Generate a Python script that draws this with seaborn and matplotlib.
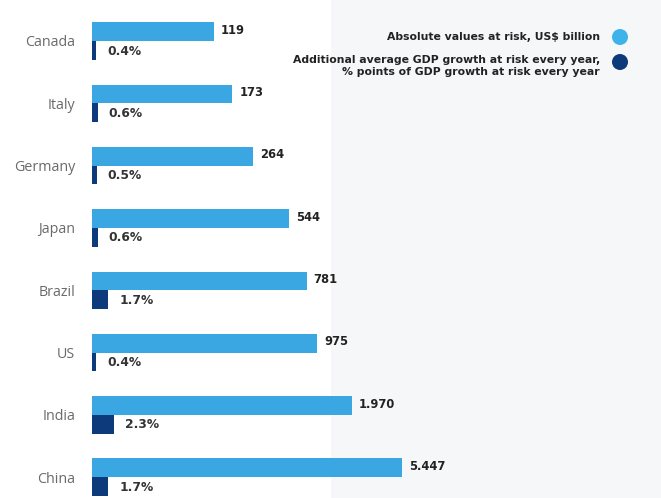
import pandas as pd
import numpy as np
import matplotlib
matplotlib.use('Agg')
import matplotlib.pyplot as plt
import seaborn as sns

# data
countries = ["Canada", "Italy", "Germany", "Japan", "Brazil", "US", "India", "China"]
abs_values = [119, 173, 264, 544, 781, 975, 1970, 5447]          # US$ billion
pct_values = [0.4, 0.6, 0.5, 0.6, 1.7, 0.4, 2.3, 1.7]            # % points of GDP
abs_labels = ["119", "173", "264", "544", "781", "975", "1.970", "5.447"]
series_names = ["Absolute values at risk, US$ billion",
                "Additional average GDP growth at risk every year,\n% points of GDP growth at risk every year"]

light_blue = "#3aa7e3"
dark_blue = "#0c3a7a"

sns.set_theme(style="white")
plt.rcParams['font.family'] = ['Open Sans', 'DejaVu Sans']
bold_font = ['DejaVu Sans']

# long table, one value column per axis (the other left empty)
df = pd.DataFrame({
    "country": countries * 2,
    "series": [series_names[0]] * len(countries) + [series_names[1]] * len(countries),
    "abs_val": abs_values + [np.nan] * len(countries),
    "pct_val": [np.nan] * len(countries) + pct_values,
})

fig = plt.figure(figsize=(6.61, 4.98), dpi=100)
fig.patch.set_facecolor("white")
# light grey panel on the right side
fig.patches.append(plt.Rectangle((0.5, 0), 0.5, 1, transform=fig.transFigure,
                                 facecolor="#f6f7f8", edgecolor="none", zorder=-10))

ax = fig.add_axes([92 / 661, 0, 1 - 92 / 661, 1])
ax.patch.set_alpha(0)
ax.set_xscale("log")
sns.barplot(data=df, y="country", x="abs_val", hue="series", hue_order=series_names,
            order=countries, palette=[light_blue, dark_blue], width=0.6, dodge=True,
            saturation=1, linewidth=0, errorbar=None, legend=False, ax=ax)

ax2 = ax.twiny()
ax2.patch.set_alpha(0)
sns.barplot(data=df, y="country", x="pct_val", hue="series", hue_order=series_names,
            order=countries, palette=[light_blue, dark_blue], width=0.6, dodge=True,
            saturation=1, linewidth=0, errorbar=None, legend=False, ax=ax2)

ax.set_xlim(10, 10 ** 6.02)
ax2.set_xlim(0, 60)
for a in (ax, ax2):
    a.set_ylim(7.335, -0.658)
    for s in a.spines.values():
        s.set_visible(False)
    a.set_xticks([])
    a.set_xlabel("")
    a.set_ylabel("")
    a.tick_params(axis="both", length=0)

ax.set_yticks(range(len(countries)))
ax.set_yticklabels(countries)
ax.tick_params(axis="y", pad=12, labelsize=10.3, labelcolor="#6a6a6a", labelleft=True)

# value labels
for i, (v, lab) in enumerate(zip(abs_values, abs_labels)):
    ax.annotate(lab, (v, i - 0.15), xytext=(5, 1), textcoords="offset points",
                ha="left", va="center", fontsize=8.3, fontweight="bold", color="#222222",
                family=bold_font)
for i, p in enumerate(pct_values):
    ax2.annotate(f"{p:.1f}%", (p, i + 0.15), xytext=(8, -0.5), textcoords="offset points",
                 ha="left", va="center", fontsize=8.8, fontweight="bold", color="#333333",
                 family=bold_font)

# legend drawn by hand, right aligned with circle markers
fig.text(600 / 661, 1 - 37 / 498, series_names[0], ha="right", va="center",
         fontsize=7.8, fontweight="bold", color="#222222", family=bold_font)
fig.text(600 / 661, 1 - 55 / 498, series_names[1], ha="right", va="top",
         fontsize=7.8, fontweight="bold", color="#222222", linespacing=1.3, family=bold_font)
fig.patches.append(matplotlib.patches.Ellipse((620 / 661, 1 - 37 / 498), 16 / 661, 16 / 498,
                                              transform=fig.transFigure, facecolor="#3db3ea",
                                              edgecolor="none"))
fig.patches.append(matplotlib.patches.Ellipse((620 / 661, 1 - 62 / 498), 16 / 661, 16 / 498,
                                              transform=fig.transFigure, facecolor=dark_blue,
                                              edgecolor="none"))

fig.savefig("out.png", dpi=100, facecolor=fig.get_facecolor())
